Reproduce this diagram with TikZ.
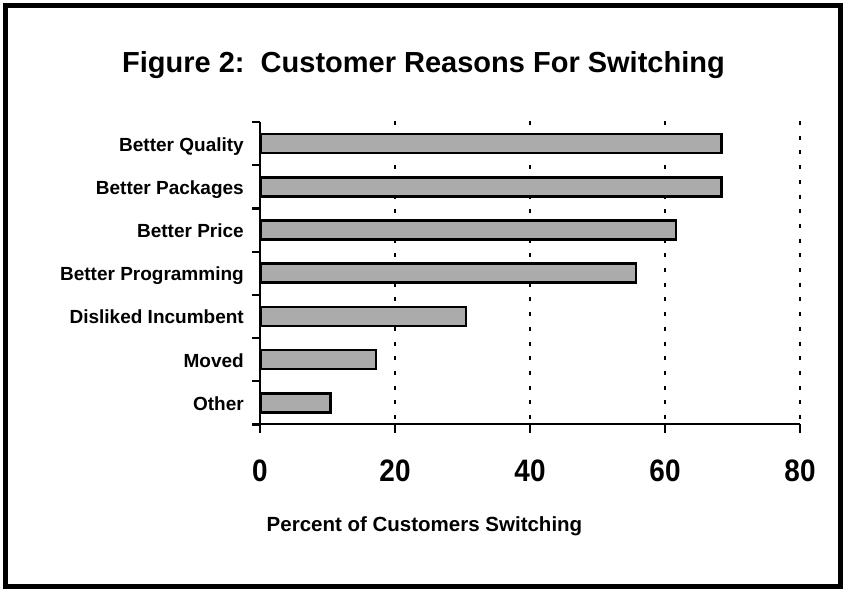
\documentclass[tikz,border=0pt]{standalone}
\usepackage{fontspec}
\setmainfont{Liberation Sans}
\newfontfamily\numfont[FakeStretch=0.9]{Liberation Sans}
\begin{document}
\begin{tikzpicture}[x=1pt,y=-1pt,
  frame/.style={line width=5pt},
  axisline/.style={line width=2.2pt},
  gridline/.style={line width=2.8pt,dash pattern=on 4pt off 10.7pt},
  bar/.style={draw=black,line width=2.6pt,fill=black!33},
  catlabel/.style={anchor=base east,inner sep=0pt,font=\bfseries\fontsize{19}{22}\selectfont},
  ticklabel/.style={anchor=base,inner sep=0pt,font=\numfont\bfseries\fontsize{31}{34}\selectfont},
  titlelabel/.style={anchor=base,inner sep=0pt,font=\bfseries\fontsize{29}{33}\selectfont},
  axislabel/.style={anchor=base,inner sep=0pt,font=\bfseries\fontsize{20.5}{24}\selectfont}]
\useasboundingbox (0,0) rectangle (845,590);
\fill[white] (0,0) rectangle (845,590);
\draw[frame] (5.5,5) rectangle (840.5,586);
% title
\node[titlelabel] (title) at (423.5,72) {Figure 2:\ \ Customer Reasons For Switching};
% grid lines
\foreach \gx in {395,530,665,800} {
  \draw[gridline] (\gx,121) -- (\gx,424);
}
% bars
\foreach \i/\v/\lab/\nm in {0/68.4/Better Quality/bq,1/68.4/Better Packages/bp,2/61.6/Better Price/bpr,3/55.7/Better Programming/bprog,4/30.5/Disliked Incumbent/di,5/17.2/Moved/mv,6/10.4/Other/ot} {
  \pgfmathsetmacro{\yc}{122+43.2*(\i+0.5)}
  \pgfmathsetmacro{\xe}{260+6.75*\v}
  \draw[bar] (261,\yc-9.5) rectangle (\xe,\yc+9.5);
  \node[catlabel] (\nm) at (244,\yc+7.5) {\lab};
}
% axes
\coordinate (o) at (260,424);
\coordinate (ytop) at (260,122);
\coordinate (xend) at (800,424);
\draw[axisline] (ytop) -- (o) -- (xend);
\foreach \k in {0,...,7} {
  \draw[axisline] (252,122+43.2*\k) -- (260,122+43.2*\k);
}
\foreach \gx/\lab in {260/0,395/20,530/40,665/60,800/80} {
  \draw[axisline] (\gx,424) -- (\gx,433);
  \node[ticklabel] (t\lab) at (\gx,481) {\lab};
}
\node[axislabel] (xlabel) at (424.5,531) {Percent of Customers Switching};
\end{tikzpicture}
\end{document}
